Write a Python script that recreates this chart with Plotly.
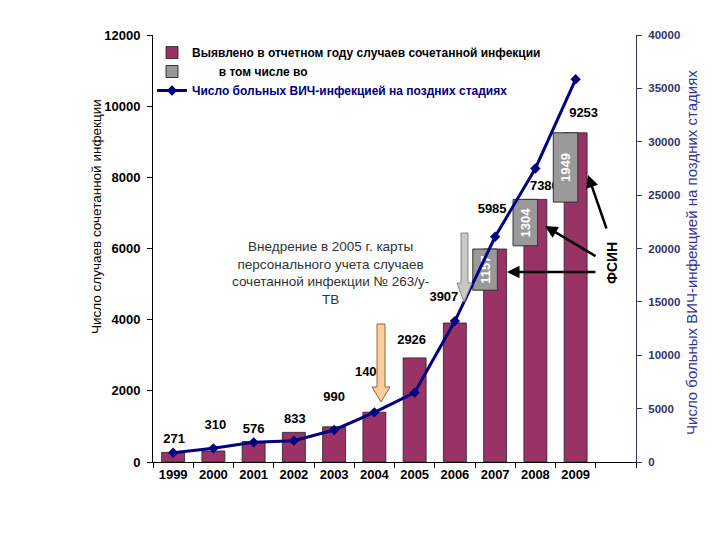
import plotly.graph_objects as go

# ---------------- data ----------------
years = [1999, 2000, 2001, 2002, 2003, 2004, 2005, 2006, 2007, 2008, 2009]
coinfection_cases = [271, 310, 576, 833, 990, 1400, 2926, 3907, 5985, 7380, 9253]
fsin_years = [2007, 2008, 2009]
fsin_cases = [1157, 1304, 1949]
late_stage_hiv = [870, 1280, 1840, 2000, 3000, 4650, 6500, 13200, 21100, 27500, 35850]
left_ticks = [0, 2000, 4000, 6000, 8000, 10000, 12000]
right_ticks = [0, 5000, 10000, 15000, 20000, 25000, 30000, 35000, 40000]

# label placement offsets (pixels) relative to bar top / category centre
label_dx_px = [1, 2, 0, 1, 0, -5, -3, -11, -3, 9, 8]
label_dy_px = [13, 25, 12, 13, 29, 39, 17, 25, 39, 13, 19]

# ---------------- geometry ----------------
W, H = 720, 540
PAGE_OFF = 8                      # page body margin in the browser
SL, ST, SR, SB = 153, 35, 636, 462  # plot area on screen
PW, PH = SR - SL, SB - ST
L, T = SL - PAGE_OFF, ST - PAGE_OFF
R, B = W - L - PW, H - T - PH
XMIN, XMAX = 1998.5, 2010.5
YMAX_L, YMAX_R = 12000, 40000
ux = (XMAX - XMIN) / PW
uy = YMAX_L / PH

def px(x):
    return (x - SL) / PW

def py(y):
    return (SB - y) / PH

FONT = "Liberation Sans, Arial, sans-serif"
MAROON = "#993366"
NAVY = "#000080"

label_x = [yr + dx * ux for yr, dx in zip(years, label_dx_px)]
label_y = [v + dy * uy for v, dy in zip(coinfection_cases, label_dy_px)]
fsin_base = [coinfection_cases[years.index(y)] - f for y, f in zip(fsin_years, fsin_cases)]

fig = go.Figure()

fig.add_trace(go.Bar(
    x=years, y=coinfection_cases, width=0.57, offset=-0.285,
    marker=dict(color=MAROON, line=dict(color="#222222", width=0.8)),
    name="Выявлено в отчетном году случаев сочетанной инфекции",
    xaxis="x", yaxis="y",
))

fig.add_trace(go.Scatter(
    x=label_x, y=label_y, mode="text", text=[str(v) for v in coinfection_cases],
    textposition="middle center",
    textfont=dict(family=FONT, size=13, color="black", weight="bold"),
    showlegend=False, hoverinfo="skip", xaxis="x", yaxis="y",
))

fig.add_trace(go.Bar(
    x=fsin_years, y=fsin_cases, base=fsin_base, width=0.61, offset=-0.555,
    marker=dict(color="#999999", line=dict(color="#333333", width=1)),
    text=[str(v) for v in fsin_cases], textposition="inside", textangle=-90,
    insidetextanchor="middle", constraintext="none",
    textfont=dict(family=FONT, size=13, color="white", weight="bold"),
    name="&nbsp;" * 8 + "в том числе во",
    xaxis="x", yaxis="y2",
))

fig.add_trace(go.Scatter(
    x=years, y=late_stage_hiv, mode="lines+markers",
    line=dict(color=NAVY, width=3),
    marker=dict(symbol="diamond", size=8, color=NAVY),
    name="<span style='color:#000080'>Число больных ВИЧ-инфекцией на поздних стадиях</span>",
    xaxis="x", yaxis="y3",
))

# arrows as shapes (drawn above traces)
def poly(points):
    return "M " + " L ".join(f"{px(x):.5f},{py(y):.5f}" for x, y in points) + " Z"

peach_arrow = [(377, 324), (385, 324), (385, 387), (390, 387), (381, 402), (372, 387), (377, 387)]
gray_arrow = [(461, 233), (468, 233), (468, 283), (472, 283), (464, 302), (457, 283), (461, 283)]

shapes = [
    dict(type="path", xref="paper", yref="paper", path=poly(peach_arrow),
         fillcolor="#FFCC99", line=dict(color="#8a6a3a", width=1), layer="above"),
    dict(type="path", xref="paper", yref="paper", path=poly(gray_arrow),
         fillcolor="#C8C8C8", line=dict(color="#888888", width=1), layer="above"),
]

C = dict(xanchor="center", yanchor="middle", showarrow=False, xref="paper", yref="paper")
annotations = [
    dict(x=px(96), y=py(217), text="Число случаев сочетанной инфекции", textangle=-90,
         font=dict(family=FONT, size=13.5, color="black"), **C),
    dict(x=px(691), y=py(253), text="Число больных ВИЧ-инфекцией на поздних стадиях", textangle=-90,
         font=dict(family=FONT, size=15, color="#333399"), **C),
    dict(x=px(330), y=py(272.5),
         text="Внедрение в 2005 г. карты<br>персонального учета случаев<br>сочетанной инфекции № 263/у-<br>ТВ",
         align="center", font=dict(family=FONT, size=13.5, color="#333333"), **C),
    dict(x=px(612), y=py(263), text="ФСИН", textangle=-90,
         font=dict(family=FONT, size=14, color="black", weight="bold"), **C),
]

for head, tail in [((507, 272), (597, 272)), ((545, 226), (597, 257)), ((588, 175), (607, 230))]:
    annotations.append(dict(
        xref="paper", yref="paper", x=px(head[0]), y=py(head[1]),
        ax=tail[0] - head[0], ay=tail[1] - head[1], axref="pixel", ayref="pixel",
        text="", showarrow=True, arrowhead=2, arrowsize=1, arrowwidth=2.5, arrowcolor="black",
    ))

fig.update_layout(
    width=W, height=H,
    margin=dict(l=L, r=R, t=T, b=B),
    paper_bgcolor="white", plot_bgcolor="white",
    barmode="overlay",
    font=dict(family=FONT),
    showlegend=True,
    legend=dict(x=px(152), y=py(38), xanchor="left", yanchor="top", bgcolor="rgba(0,0,0,0)",
                font=dict(family=FONT, size=12, color="black", weight="bold"),
                tracegroupgap=0, traceorder="normal"),
    xaxis=dict(range=[XMIN, XMAX], tickmode="array", tickvals=years, ticktext=[str(y) for y in years],
               ticks="", showline=True, linecolor="black", linewidth=1, automargin=False,
               tickfont=dict(family=FONT, size=13, color="black", weight="bold"),
               showgrid=False, zeroline=False,
               minor=dict(tickmode="linear", tick0=XMIN, dtick=1, ticks="outside", ticklen=5,
                          tickcolor="black", showgrid=False)),
    yaxis=dict(range=[0, YMAX_L], tickmode="array", tickvals=left_ticks,
               ticktext=[str(t) for t in left_ticks], ticks="outside", ticklen=5,
               tickcolor="black", showline=True, linecolor="black", linewidth=1, automargin=False,
               tickfont=dict(family=FONT, size=13, color="black", weight="bold"),
               showgrid=False, zeroline=False, ticklabelstandoff=4),
    yaxis2=dict(range=[0, YMAX_L], overlaying="y", visible=False, showgrid=False),
    yaxis3=dict(range=[0, YMAX_R], overlaying="y", side="right", tickmode="array", tickvals=right_ticks,
                ticktext=[str(t) for t in right_ticks], automargin=False,
                ticks="outside", ticklen=5, tickcolor="#333366", showline=True, linecolor="#333366",
                linewidth=1, tickfont=dict(family=FONT, size=11.5, color="#333366", weight="bold"),
                showgrid=False, zeroline=False, ticklabelstandoff=4),
    shapes=shapes,
    annotations=annotations,
)

fig.write_html("out.html")
